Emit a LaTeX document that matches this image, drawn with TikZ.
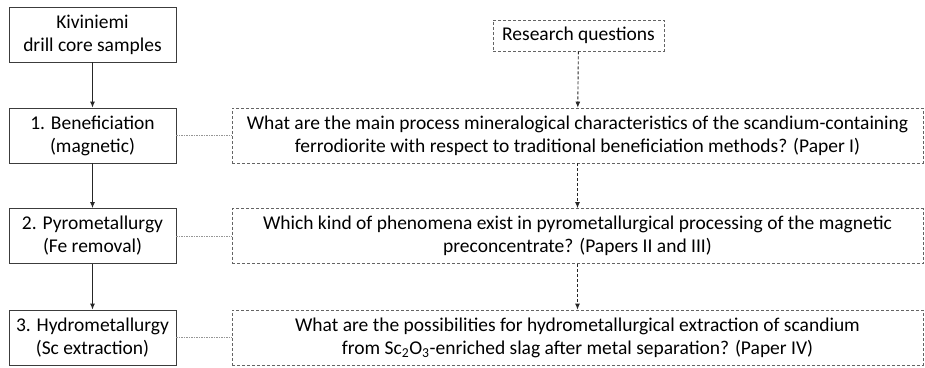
\documentclass[tikz,border=0pt]{standalone}
\usepackage{fontspec}
\setmainfont{Carlito}
\usetikzlibrary{positioning,arrows.meta}
\definecolor{boxline}{RGB}{60,60,60}
\definecolor{qline}{RGB}{100,100,100}
\definecolor{linkgray}{RGB}{150,150,150}
\tikzset{
  stagebox/.style={draw=boxline, line width=0.9pt, minimum width=167pt, minimum height=55pt,
                   inner sep=0pt, align=center, font=\fontsize{19.5}{23}\selectfont},
  qbox/.style={draw=qline, line width=0.8pt, dash pattern=on 3pt off 2pt, minimum width=691pt,
               minimum height=55pt, inner sep=0pt, align=center, font=\fontsize{19.5}{23}\selectfont},
  rqbox/.style={qbox, minimum width=171pt, minimum height=31pt},
  arr/.style={-{Latex[length=6pt,width=5pt]}, line width=0.9pt, black!85},
  darr/.style={arr, dash pattern=on 3pt off 2pt},
  link/.style={linkgray, line width=0.8pt, dash pattern=on 1.5pt off 1pt}
}
\begin{document}
\begin{tikzpicture}[x=1pt,y=-1pt]
  \useasboundingbox (0,0) rectangle (925,367);
  %% Left: process stages
  \node[stagebox] (core) at (92.5,34.5) {Kiviniemi\\drill core samples};
  \node[stagebox] (benef) at (92.5,135.5) {1. Beneficiation\\(magnetic)};
  \node[stagebox] (pyro) at (92.5,236) {2. Pyrometallurgy\\(Fe removal)};
  \node[stagebox] (hydro) at (92.5,337.5) {3. Hydrometallurgy\\(Sc extraction)};
  \draw[arr] (core) -- (benef);
  \draw[arr] (benef) -- (pyro);
  \draw[arr] (pyro) -- (hydro);

  %% Right: research questions
  \node[rqbox] (rq) at (578.5,35.5) {Research questions};
  \node[qbox] (q1) at (577.5,135.5) {What are the main process mineralogical characteristics of the scandium-containing\\ferrodiorite with respect to traditional beneficiation methods? (Paper I)};
  \node[qbox] (q2) at (577.5,236) {Which kind of phenomena exist in pyrometallurgical processing of the magnetic\\preconcentrate? (Papers II and III)};
  \node[qbox] (q3) at (577.5,337.5) {What are the possibilities for hydrometallurgical extraction of scandium\\from Sc\textsubscript{2}O\textsubscript{3}-enriched slag after metal separation? (Paper IV)};
  \draw[darr] (rq) -- (q1);
  \draw[darr] (q1) -- (q2);
  \draw[darr] (q2) -- (q3);

  % links between stages and questions
  \draw[link] (benef) -- (q1);
  \draw[link] (pyro) -- (q2);
  \draw[link] (hydro) -- (q3);
\end{tikzpicture}
\end{document}
